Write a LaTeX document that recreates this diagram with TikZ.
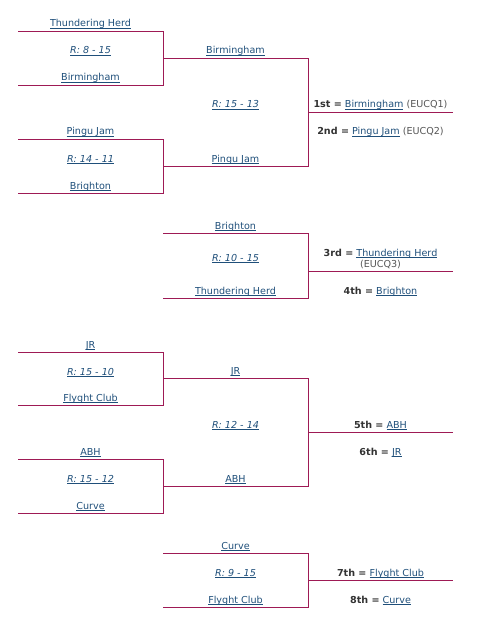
\documentclass[tikz,border=0pt]{standalone}
\usepackage{fontspec}
\setmainfont{DejaVu Sans}
\definecolor{ln}{HTML}{9E1A55}
\definecolor{lkc}{HTML}{1F4F7A}
\definecolor{lb}{HTML}{333333}
\definecolor{gr}{HTML}{555555}
\newcommand\lk[1]{{\color{lkc}\setbox0\hbox{#1}\rlap{\rule[-1.7pt]{\wd0}{0.6pt}}\box0}}
\newcommand\scoretxt[1]{\lk{\itshape R: #1}}
\newcommand\plc[2]{{\color{lb}\textbf{#1 =}} \lk{#2}}
\newcommand\bracketat[3]{\draw[brk] (#1,#2) -- ++(145,0) |- (#1,#3);}
\begin{document}
\begin{tikzpicture}[x=1pt,y=-1pt,font=\fontsize{9.6}{11}\selectfont,
  brk/.style={draw=ln,line width=0.9pt},
  tm/.style={anchor=base,inner sep=0pt},
  lab/.style={anchor=base,inner sep=0pt,align=center}]
\useasboundingbox (0,0) rectangle (481,623);
% Group 1st/2nd
\bracketat{18}{31}{85}
\node[tm] (a1) at (90.5,27) {\lk{Thundering Herd}};
\node[tm] (a1s) at (90.5,54) {\scoretxt{8 - 15}};
\node[tm] (a2) at (90.5,81) {\lk{Birmingham}};
\bracketat{18}{139}{193}
\node[tm] (a3) at (90.5,135) {\lk{Pingu Jam}};
\node[tm] (a3s) at (90.5,162) {\scoretxt{14 - 11}};
\node[tm] (a4) at (90.5,189) {\lk{Brighton}};
\bracketat{163}{58}{166}
\node[tm] (b1) at (235.5,54) {\lk{Birmingham}};
\node[tm] (b1s) at (235.5,108) {\scoretxt{15 - 13}};
\node[tm] (b2) at (235.5,162) {\lk{Pingu Jam}};
\draw[brk] (308,112) -- (453,112);
\node[lab] (p1) at (380.5,108) {\plc{1st}{Birmingham} {\color{gr}(EUCQ1)}};
\node[lab] (p2) at (380.5,135) {\plc{2nd}{Pingu Jam} {\color{gr}(EUCQ2)}};
% 3rd/4th
\bracketat{163}{233}{298}
\node[tm] (c1) at (235.5,229) {\lk{Brighton}};
\node[tm] (c1s) at (235.5,261) {\scoretxt{10 - 15}};
\node[tm] (c2) at (235.5,294) {\lk{Thundering Herd}};
\draw[brk] (308,271) -- (453,271);
\node[lab] (p3) at (380.5,256) {\plc{3rd}{Thundering Herd}};
\node[lab] (p3b) at (380.5,267) {\color{gr}(EUCQ3)};
\node[lab] (p4) at (380.5,294) {\plc{4th}{Brighton}};
% 5th-8th
\bracketat{18}{352}{405}
\node[tm] (d1) at (90.5,348) {\lk{JR}};
\node[tm] (d1s) at (90.5,375) {\scoretxt{15 - 10}};
\node[tm] (d2) at (90.5,401) {\lk{Flyght Club}};
\bracketat{18}{459}{513}
\node[tm] (d3) at (90.5,455) {\lk{ABH}};
\node[tm] (d3s) at (90.5,482) {\scoretxt{15 - 12}};
\node[tm] (d4) at (90.5,509) {\lk{Curve}};
\bracketat{163}{378}{486}
\node[tm] (e1) at (235.5,374) {\lk{JR}};
\node[tm] (e1s) at (235.5,428) {\scoretxt{12 - 14}};
\node[tm] (e2) at (235.5,482) {\lk{ABH}};
\draw[brk] (308,432) -- (453,432);
\node[lab] (p5) at (380.5,428) {\plc{5th}{ABH}};
\node[lab] (p6) at (380.5,455) {\plc{6th}{JR}};
% 7th/8th
\bracketat{163}{553}{607}
\node[tm] (f1) at (235.5,549) {\lk{Curve}};
\node[tm] (f1s) at (235.5,576) {\scoretxt{9 - 15}};
\node[tm] (f2) at (235.5,603) {\lk{Flyght Club}};
\draw[brk] (308,580) -- (453,580);
\node[lab] (p7) at (380.5,576) {\plc{7th}{Flyght Club}};
\node[lab] (p8) at (380.5,603) {\plc{8th}{Curve}};
\end{tikzpicture}
\end{document}
